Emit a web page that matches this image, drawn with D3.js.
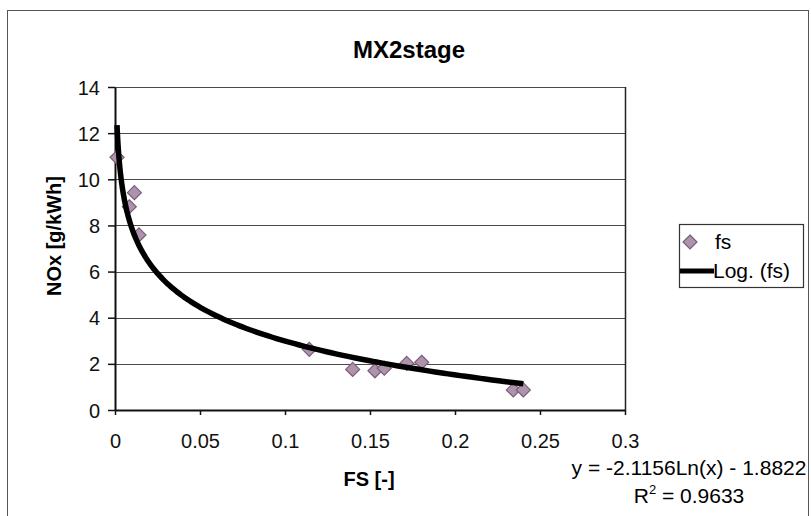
<!DOCTYPE html>
<html>
<head>
<meta charset="utf-8">
<script src="https://cdn.jsdelivr.net/npm/d3@7"></script>
<style>
  html, body { margin: 0; padding: 0; background: #fff; }
  svg { display: block; font-family: "Liberation Sans", Arial, sans-serif; }
</style>
</head>
<body>
<svg id="chart" width="811" height="516"></svg>
<script>
// Measured fuel-split points (FS) and NOx emissions
const fsValues  = [0.0012, 0.0084, 0.0114, 0.0141, 0.1143, 0.1398, 0.1529, 0.1584, 0.1716, 0.1804, 0.2343, 0.2402];
const noxValues = [10.95, 8.81, 9.42, 7.59, 2.63, 1.76, 1.70, 1.81, 2.02, 2.07, 0.87, 0.87];

// Logarithmic trend line: y = a*ln(x) + b
const trendA = -2.1156;
const trendB = -1.8822;
const rSquared = 0.9633;

const xTicks = [0, 0.05, 0.1, 0.15, 0.2, 0.25, 0.3];
const yTicks = [0, 2, 4, 6, 8, 10, 12, 14];

const chartTitle = "MX2stage";
const xTitle = "FS [-]";
const yTitle = "NOx [g/kWh]";
const legendLabels = ["fs", "Log. (fs)"];

const svg = d3.select("#chart");

// outer chart frame
svg.append("rect")
  .attr("x", 7.5).attr("y", 10.5)
  .attr("width", 801).attr("height", 520)
  .attr("fill", "#fff").attr("stroke", "#555").attr("stroke-width", 1);

const plot = { left: 115, right: 625, top: 87, bottom: 410 };

const x = d3.scaleLinear().domain([0, 0.3]).range([plot.left, plot.right]);
const y = d3.scaleLinear().domain([0, 14]).range([plot.bottom, plot.top]);

// title
svg.append("text")
  .attr("x", 409).attr("y", 58)
  .attr("text-anchor", "middle")
  .attr("font-weight", "bold").attr("font-size", 24)
  .text(chartTitle);

// horizontal gridlines
svg.append("g").selectAll("line")
  .data(yTicks.filter(d => d > 0))
  .join("line")
  .attr("x1", plot.left).attr("x2", plot.right)
  .attr("y1", d => Math.round(y(d)) + 0.5).attr("y2", d => Math.round(y(d)) + 0.5)
  .attr("stroke", "#4a4a4a").attr("stroke-width", 1);

// right edge of plot area
svg.append("line")
  .attr("x1", plot.right + 0.5).attr("x2", plot.right + 0.5)
  .attr("y1", plot.top).attr("y2", plot.bottom)
  .attr("stroke", "#222").attr("stroke-width", 1.5);

// x axis
const xAxis = svg.append("g")
  .attr("transform", `translate(0,${plot.bottom})`)
  .call(d3.axisBottom(x).tickValues(xTicks).tickSize(5).tickSizeOuter(0)
    .tickFormat(d => String(+d.toFixed(2))));
xAxis.select(".domain").attr("stroke", "#111").attr("stroke-width", 2);
xAxis.selectAll(".tick line").attr("stroke", "#111").attr("stroke-width", 1.5);
xAxis.selectAll(".tick text")
  .attr("y", 24).attr("dy", "0.71em")
  .attr("font-size", 20).attr("fill", "#111")
  .attr("font-family", "'Liberation Sans', Arial, sans-serif");

// y axis
const yAxis = svg.append("g")
  .attr("transform", `translate(${plot.left},0)`)
  .call(d3.axisLeft(y).tickValues(yTicks).tickSize(7).tickSizeOuter(0));
yAxis.select(".domain").attr("stroke", "#111").attr("stroke-width", 2);
yAxis.selectAll(".tick line").attr("stroke", "#111").attr("stroke-width", 1.5);
yAxis.selectAll(".tick text")
  .attr("x", -15).attr("dy", "0.35em")
  .attr("font-size", 20).attr("fill", "#111")
  .attr("font-family", "'Liberation Sans', Arial, sans-serif");

// axis titles
svg.append("text")
  .attr("x", 369).attr("y", 486)
  .attr("text-anchor", "middle")
  .attr("font-weight", "bold").attr("font-size", 20)
  .text(xTitle);

svg.append("text")
  .attr("transform", "translate(61,236) rotate(-90)")
  .attr("text-anchor", "middle")
  .attr("font-weight", "bold").attr("font-size", 20)
  .text(yTitle);

// data markers
const diamond = d3.symbol().type(d3.symbolDiamond2).size(125);
const points = fsValues.map((v, i) => ({ fs: v, nox: noxValues[i] }));
svg.append("g").selectAll("path")
  .data(points)
  .join("path")
  .attr("transform", d => `translate(${x(d.fs)},${y(d.nox)})`)
  .attr("d", diamond)
  .attr("fill", "#ae93ad").attr("stroke", "#7a5c7a").attr("stroke-width", 1.2);

// trend line across the measured FS range
const fsMin = d3.min(fsValues), fsMax = d3.max(fsValues);
const trendPts = d3.range(0, 201).map(i => {
  const t = i / 200;
  const xv = Math.exp(Math.log(fsMin) + t * (Math.log(fsMax) - Math.log(fsMin)));
  return [xv, trendA * Math.log(xv) + trendB];
});
svg.append("path")
  .datum(trendPts)
  .attr("d", d3.line().x(d => x(d[0])).y(d => y(d[1])).curve(d3.curveMonotoneX))
  .attr("fill", "none").attr("stroke", "#000").attr("stroke-width", 5.5)
  .attr("stroke-linejoin", "round");

// legend
const lg = svg.append("g");
lg.append("rect")
  .attr("x", 679.5).attr("y", 224.5).attr("width", 124).attr("height", 63)
  .attr("fill", "#fff").attr("stroke", "#333").attr("stroke-width", 1.2);
lg.append("path")
  .attr("transform", "translate(690,242)")
  .attr("d", diamond)
  .attr("fill", "#ae93ad").attr("stroke", "#7a5c7a").attr("stroke-width", 1.2);
lg.append("text")
  .attr("x", 715).attr("y", 249).attr("font-size", 21).text(legendLabels[0]);
lg.append("line")
  .attr("x1", 680).attr("x2", 714).attr("y1", 271).attr("y2", 271)
  .attr("stroke", "#000").attr("stroke-width", 5);
lg.append("text")
  .attr("x", 713).attr("y", 278).attr("font-size", 21).text(legendLabels[1]);

// trend equation
const eq = svg.append("g").attr("font-size", 21).attr("text-anchor", "middle");
eq.append("text").attr("x", 689).attr("y", 475)
  .text(`y = ${trendA}Ln(x) - ${Math.abs(trendB)}`);
const r2 = eq.append("text").attr("x", 689).attr("y", 503);
r2.append("tspan").text("R");
r2.append("tspan").attr("font-size", 13).attr("dy", -9).text("2");
r2.append("tspan").attr("dy", 9).text(` = ${rSquared}`);
</script>
</body>
</html>
